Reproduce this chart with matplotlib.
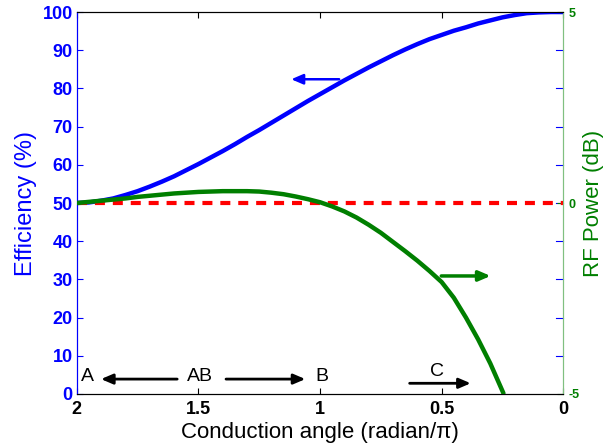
import matplotlib
matplotlib.use("Agg")
import matplotlib.pyplot as plt

plt.rcParams['font.family'] = ['Liberation Sans', 'DejaVu Sans']

# Efficiency (%) vs conduction angle (radian/pi)
eff_x = [2.0, 1.95, 1.9, 1.85, 1.8, 1.75, 1.7, 1.65, 1.6, 1.55, 1.5, 1.45, 1.4, 1.35,
         1.3, 1.25, 1.2, 1.15, 1.1, 1.05, 1.0, 0.95, 0.9, 0.85, 0.8, 0.75, 0.7, 0.65,
         0.6, 0.55, 0.5, 0.45, 0.4, 0.35, 0.3, 0.25, 0.2, 0.15, 0.1, 0.05, 0.0]
eff_y = [50.0, 50.15, 50.6, 51.2, 52.1, 53.1, 54.3, 55.6, 57.0, 58.6, 60.2, 61.9, 63.6, 65.4,
         67.3, 69.1, 71.0, 72.9, 74.8, 76.7, 78.5, 80.3, 82.1, 83.8, 85.5, 87.1, 88.7, 90.2,
         91.6, 92.9, 94.0, 95.1, 96.0, 97.0, 97.8, 98.6, 99.2, 99.7, 99.9, 100.0, 100.0]

# RF power (dB) vs conduction angle
pow_x = [2.0, 1.95, 1.9, 1.85, 1.8, 1.75, 1.7, 1.65, 1.6, 1.55, 1.5, 1.45, 1.4, 1.35,
         1.3, 1.25, 1.2, 1.15, 1.1, 1.05, 1.0, 0.95, 0.9, 0.85, 0.8, 0.75, 0.7, 0.65,
         0.6, 0.55, 0.5, 0.45, 0.4, 0.35, 0.3, 0.246]
pow_y = [0.0, 0.03, 0.06, 0.09, 0.12, 0.16, 0.19, 0.22, 0.25, 0.27, 0.29, 0.30, 0.31, 0.31,
         0.31, 0.30, 0.27, 0.23, 0.17, 0.10, 0.02, -0.09, -0.22, -0.38, -0.57, -0.78, -1.02, -1.26,
         -1.51, -1.78, -2.07, -2.48, -3.0, -3.57, -4.2, -4.98]

ref_x = [2.0, 0.0]
ref_db = [0.0, 0.0]

x_ticks = [2, 1.5, 1, 0.5, 0]
x_ticklabels = ['2', '1.5', '1', '0.5', '0']
eff_ticks = [0, 10, 20, 30, 40, 50, 60, 70, 80, 90, 100]
pow_ticks = [-5, 0, 5]

BLUE = '#0000ff'
GREEN = '#007f00'
LGREEN = '#80c080'

fig = plt.figure(figsize=(6.05, 4.47), dpi=100)
ax = fig.add_axes([0.127, 0.1186, 0.804, 0.8545])
ax2 = ax.twinx()

ax.plot(eff_x, eff_y, color=BLUE, lw=3.2, solid_capstyle='round', zorder=3)
ax2.plot(pow_x, pow_y, color=GREEN, lw=3.2, solid_capstyle='round', zorder=3)
ax2.plot(ref_x, ref_db, color='#ff0000', lw=3.0, dashes=(2.4, 1.9), zorder=2)

ax.set_xlim(2, 0)
ax.set_ylim(0, 100)
ax2.set_ylim(-5, 5)

ax.set_xticks(x_ticks)
ax.set_xticklabels(x_ticklabels, fontweight='bold', fontsize=13)
ax.set_yticks(eff_ticks)
ax.set_yticklabels([str(t) for t in eff_ticks], fontweight='bold', fontsize=13, color=BLUE)
ax2.set_yticks(pow_ticks)
ax2.set_yticklabels([str(t) for t in pow_ticks], fontweight='bold', fontsize=9, color=GREEN)

ax.tick_params(axis='x', direction='in', top=True, length=4, color='black', pad=5)
ax.tick_params(axis='y', direction='in', length=4, color=BLUE, right=False, pad=3)
ax2.tick_params(axis='y', direction='in', length=4, color=GREEN, pad=4)

# left-axis ticks mirrored on right side (blue)
for t in eff_ticks[1:-1]:
    ax.plot([1, 0.985], [t / 100.0, t / 100.0], transform=ax.transAxes,
            color=BLUE, lw=0.8, clip_on=False, zorder=1)

for a in (ax, ax2):
    a.spines['left'].set_color(BLUE)
    a.spines['right'].set_color(LGREEN)
    a.spines['top'].set_color('black')
    a.spines['bottom'].set_color('black')

ax.set_xlabel('Conduction angle (radian/\u03c0)', fontsize=16, labelpad=3)
ax.set_ylabel('Efficiency (%)', fontsize=17, color=BLUE, labelpad=4)
ax2.set_ylabel('RF Power (dB)', fontsize=16, color=GREEN, labelpad=2)

# curve arrows
ax.annotate('', xy=(1.13, 82.4), xytext=(0.91, 82.4),
            arrowprops=dict(arrowstyle='-|>,head_length=0.7,head_width=0.3',
                            color=BLUE, lw=1.8))
ax.annotate('', xy=(0.287, 30.9), xytext=(0.513, 30.9),
            arrowprops=dict(arrowstyle='-|>,head_length=0.7,head_width=0.3',
                            color=GREEN, lw=2.5))

# class annotations
ax.text(1.955, 4.5, 'A', fontsize=14, ha='center', va='center')
ax.annotate('', xy=(1.912, 3.9), xytext=(1.576, 3.9),
            arrowprops=dict(arrowstyle='-|>,head_length=0.7,head_width=0.3',
                            color='black', lw=2))
ax.text(1.494, 4.7, 'AB', fontsize=14, ha='center', va='center')
ax.annotate('', xy=(1.049, 3.9), xytext=(1.398, 3.9),
            arrowprops=dict(arrowstyle='-|>,head_length=0.7,head_width=0.3',
                            color='black', lw=2))
ax.text(0.993, 4.7, 'B', fontsize=14, ha='center', va='center')
ax.text(0.52, 6.0, 'C', fontsize=14, ha='center', va='center')
ax.annotate('', xy=(0.369, 2.8), xytext=(0.643, 2.8),
            arrowprops=dict(arrowstyle='-|>,head_length=0.7,head_width=0.3',
                            color='black', lw=2))

fig.savefig('out.png', dpi=100)
